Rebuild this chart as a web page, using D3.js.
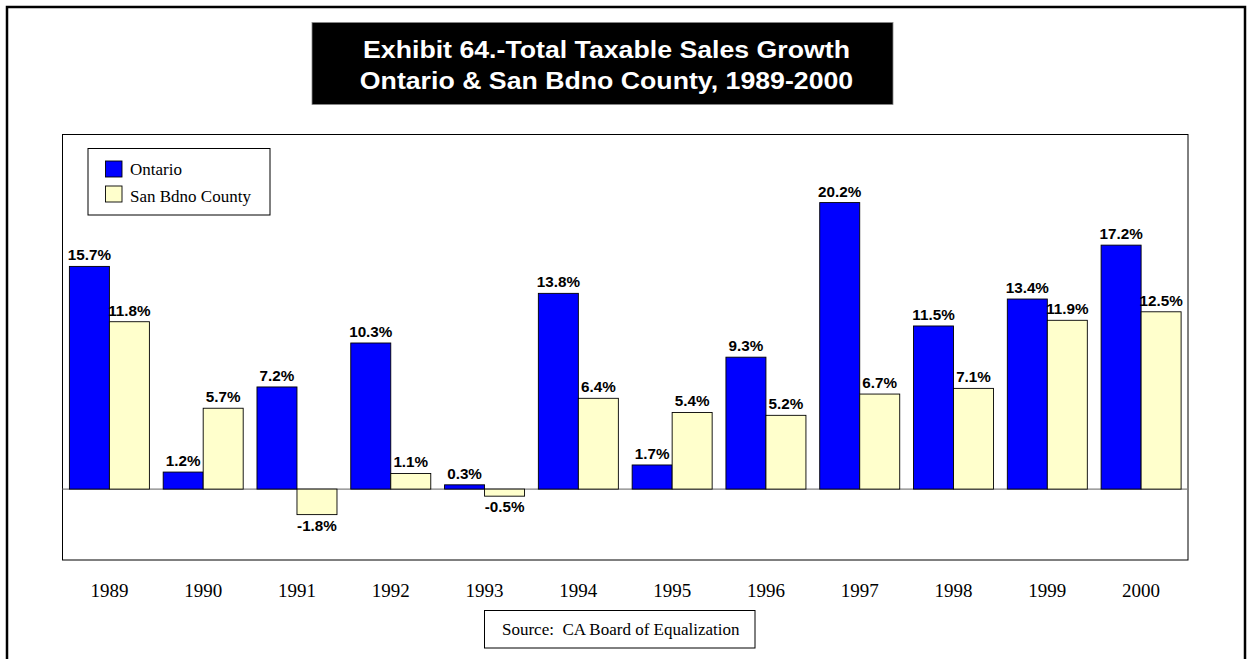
<!DOCTYPE html>
<html>
<head>
<meta charset="utf-8">
<script src="https://cdn.jsdelivr.net/npm/d3@7/dist/d3.min.js"></script>
<style>
  html, body { margin: 0; padding: 0; background: #fff; }
  svg { display: block; }
</style>
</head>
<body>
<svg id="chart" width="1249" height="659"></svg>
<script>
// Annual growth in total taxable sales (%)
const years = ["1989", "1990", "1991", "1992", "1993", "1994", "1995", "1996", "1997", "1998", "1999", "2000"];
const seriesNames = ["Ontario", "San Bdno County"];
const ontario = [15.7, 1.2, 7.2, 10.3, 0.3, 13.8, 1.7, 9.3, 20.2, 11.5, 13.4, 17.2];
const sanBdno = [11.8, 5.7, -1.8, 1.1, -0.5, 6.4, 5.4, 5.2, 6.7, 7.1, 11.9, 12.5];
const seriesColors = ["#0000ff", "#ffffcc"];
const titleLines = ["Exhibit 64.-Total Taxable Sales Growth", "Ontario & San Bdno County, 1989-2000"];
const sourceText = "Source:  CA Board of Equalization";

const rows = years.map((y, i) => ({ year: y, values: [ontario[i], sanBdno[i]] }));

const svg = d3.select("#chart");
const sans = "'Liberation Sans', Arial, sans-serif";
const serif = "'Liberation Serif', 'Times New Roman', serif";
const stretch = 1.09; // bold sans labels are drawn slightly wide

// Page frame (open at the bottom)
svg.append("rect")
  .attr("x", 7).attr("y", 7).attr("width", 1238).attr("height", 700)
  .attr("fill", "none").attr("stroke", "#000").attr("stroke-width", 2.5);

// Title block
const tb = { x: 312, y: 22.5, w: 581, h: 82 };
svg.append("rect")
  .attr("x", tb.x).attr("y", tb.y).attr("width", tb.w).attr("height", tb.h)
  .attr("fill", "#000").attr("stroke", "#888").attr("stroke-width", 0.8);
titleLines.forEach((t, i) => {
  svg.append("text")
    .attr("transform", `translate(${tb.x + tb.w / 2 + 4},${57.5 + i * 31.5}) scale(${stretch},1)`)
    .attr("text-anchor", "middle")
    .attr("font-family", sans).attr("font-weight", "bold").attr("font-size", 24.5)
    .attr("fill", "#fff")
    .text(t);
});

// Plot area
const plot = { left: 62.5, top: 134.5, right: 1188, bottom: 560 };

const x = d3.scaleBand()
  .domain(years)
  .range([plot.left, plot.right])
  .paddingInner(0.147)
  .paddingOuter(0.0735);

const xs = d3.scaleBand()
  .domain(d3.range(seriesNames.length))
  .range([0, x.bandwidth()])
  .padding(0);

const y = d3.scaleLinear()
  .domain([-5, 25])
  .range([plot.bottom, plot.top]);

svg.append("rect")
  .attr("x", plot.left).attr("y", plot.top)
  .attr("width", plot.right - plot.left).attr("height", plot.bottom - plot.top)
  .attr("fill", "#fff").attr("stroke", "#000").attr("stroke-width", 1);

// Zero baseline
svg.append("line")
  .attr("x1", plot.left).attr("x2", plot.right)
  .attr("y1", y(0)).attr("y2", y(0))
  .attr("stroke", "#808080").attr("stroke-width", 1.2);

const groups = svg.append("g").selectAll("g")
  .data(rows).join("g")
  .attr("transform", d => `translate(${x(d.year)},0)`);

groups.selectAll("rect")
  .data(d => d.values.map((v, k) => ({ v, k })))
  .join("rect")
  .attr("x", d => xs(d.k))
  .attr("y", d => y(Math.max(0, d.v)))
  .attr("width", xs.bandwidth())
  .attr("height", d => Math.abs(y(d.v) - y(0)))
  .attr("fill", d => seriesColors[d.k])
  .attr("stroke", "#000").attr("stroke-width", 0.9);

// Value labels
groups.selectAll("text")
  .data(d => d.values.map((v, k) => ({ v, k })))
  .join("text")
  .attr("transform", d => {
    const cx = xs(d.k) + xs.bandwidth() / 2;
    const cy = d.v >= 0 ? y(d.v) - 6 : y(d.v) + 16;
    return `translate(${cx},${cy}) scale(${stretch},1)`;
  })
  .attr("text-anchor", "middle")
  .attr("font-family", sans).attr("font-weight", "bold").attr("font-size", 14)
  .attr("fill", "#000")
  .text(d => d.v.toFixed(1) + "%");

// Category axis (labels only)
const xAxis = svg.append("g")
  .attr("transform", `translate(0,${plot.bottom})`)
  .call(d3.axisBottom(x).tickSize(0).tickPadding(23.5));
xAxis.select(".domain").remove();
xAxis.selectAll("text")
  .attr("font-family", serif).attr("font-size", 19).attr("fill", "#000");

// Legend
const lg = svg.append("g");
lg.append("rect")
  .attr("x", 88).attr("y", 148.5).attr("width", 182).attr("height", 66.5)
  .attr("fill", "#fff").attr("stroke", "#000").attr("stroke-width", 1);
seriesNames.forEach((name, k) => {
  lg.append("rect")
    .attr("x", 105.5).attr("y", 161 + k * 25).attr("width", 16.5).attr("height", 16)
    .attr("fill", seriesColors[k]).attr("stroke", "#000").attr("stroke-width", 0.9);
  lg.append("text")
    .attr("x", 130).attr("y", 175 + k * 26.5)
    .attr("font-family", serif).attr("font-size", 17).attr("fill", "#000")
    .text(name);
});

// Source note
svg.append("rect")
  .attr("x", 484.5).attr("y", 610.5).attr("width", 270.5).attr("height", 37.5)
  .attr("fill", "#fff").attr("stroke", "#000").attr("stroke-width", 1);
svg.append("text")
  .attr("x", 502).attr("y", 635)
  .attr("font-family", serif).attr("font-size", 17).attr("fill", "#000")
  .style("white-space", "pre")
  .text(sourceText);
</script>
</body>
</html>
